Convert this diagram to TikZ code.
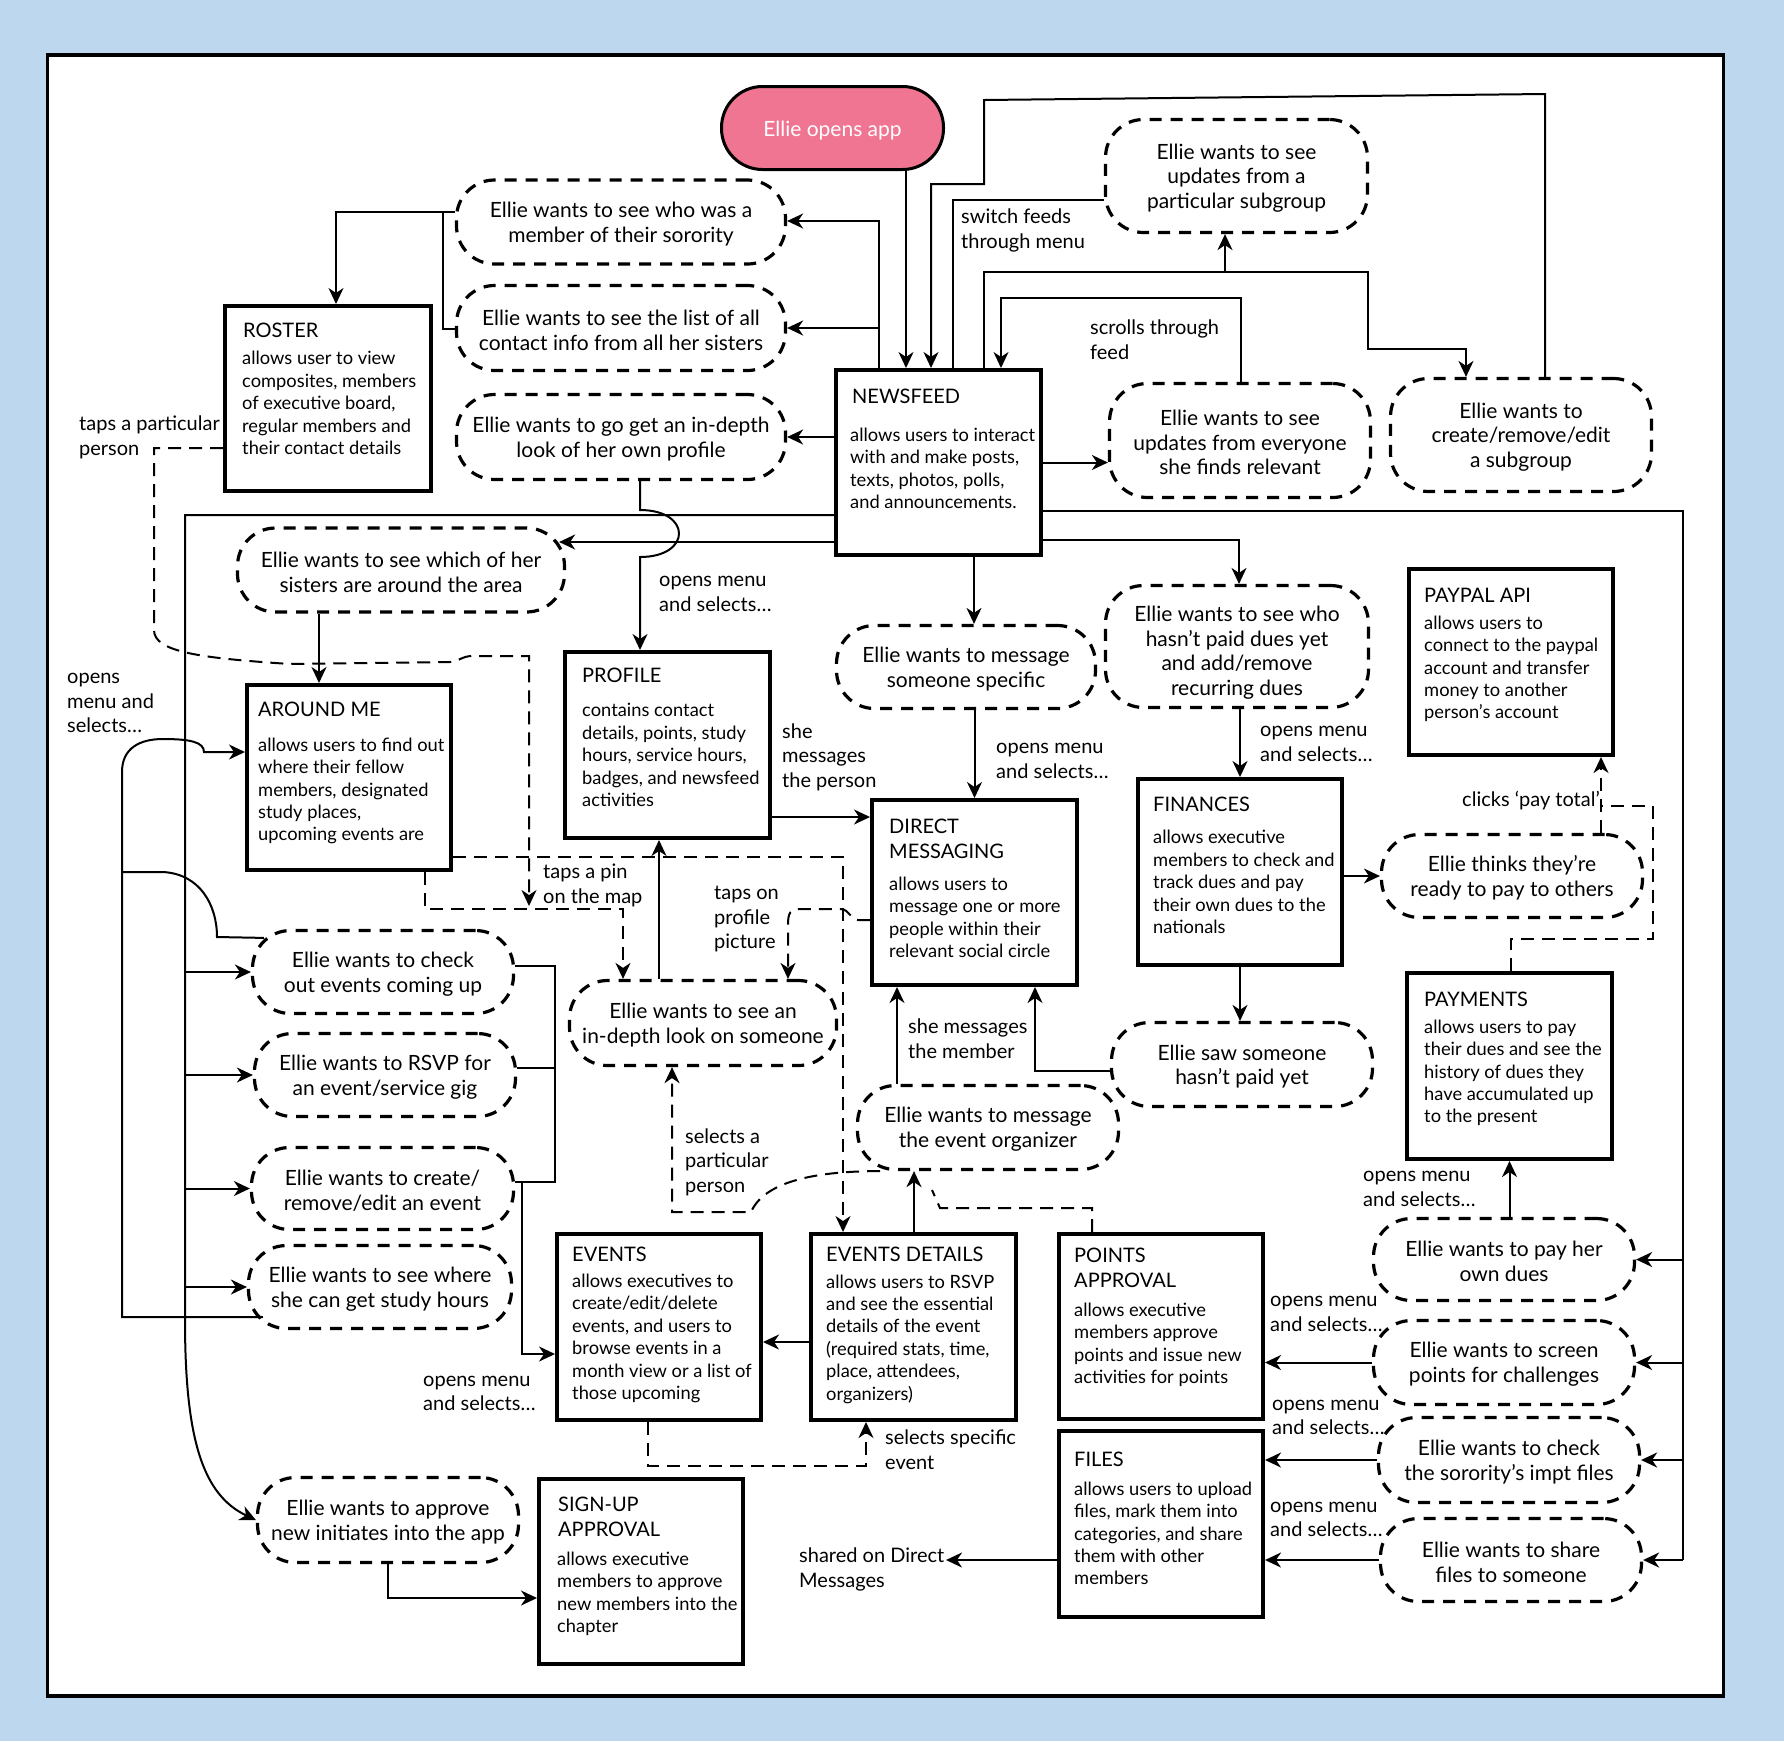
\documentclass[tikz,border=0pt]{standalone}
\usepackage{fontspec}
\setmainfont{Lato}
\usetikzlibrary{arrows.meta,calc}
\definecolor{bgblue}{RGB}{189,215,238}
\definecolor{pinkfill}{RGB}{240,117,146}
\newcommand\fE{\fontsize{21pt}{24.8pt}\selectfont}
\newcommand\fT{\fontsize{20pt}{25pt}\selectfont}
\newcommand\fB{\fontsize{18.3pt}{22.4pt}\selectfont}
\newcommand\fL{\fontsize{20pt}{24.6pt}\selectfont}
\newcommand\lowstrut{\rule{0pt}{19.5pt}}
\begin{document}
\begin{tikzpicture}[x=1pt,y=-1pt,
  box/.style={draw, line width=4pt, inner sep=0pt},
  ell/.style={draw, line width=3.2pt, dash pattern=on 12pt off 9pt, rounded corners=38pt, align=center, inner sep=0pt, font=\fE},
  pill/.style={draw, line width=3pt, fill=pinkfill, rounded corners=41pt, text=white, font=\fE, inner sep=0pt, execute at begin node={\rule{0pt}{20pt}}},
  ttl/.style={anchor=west, inner sep=0pt, align=left, font=\fT},
  bdy/.style={anchor=west, inner sep=0pt, align=left, font=\fB},
  lbl/.style={anchor=west, inner sep=0pt, align=left, font=\fL},
  ln/.style={line width=2pt},
  arr/.style={ln, -{Stealth[length=16pt,width=15pt,inset=5pt]}},
  dln/.style={ln, dash pattern=on 13pt off 8pt},
  darr/.style={dln, -{Stealth[length=16pt,width=15pt,inset=5pt]}}]
\useasboundingbox (0,0) rectangle (1784,1741);
\fill[bgblue] (0,0) rectangle (1784,1741);
\draw[line width=3.5pt, fill=white] (47.5,55) rectangle (1723.5,1696);

% ---------- boxes ----------
\node[box, minimum width=206pt, minimum height=185pt] (roster) at (328,398.5) {};
\node[ttl] (rosterT) at (243,330) {ROSTER};
\node[bdy] (rosterB) at (242,403) {allows user to view\\composites, members\\of executive board,\\regular members and\\their contact details};

\node[box, minimum width=205pt, minimum height=185pt] (news) at (938.5,462.5) {};
\node[ttl] (newsT) at (852,396) {NEWSFEED};
\node[bdy] (newsB) at (850,468.5) {allows users to interact\\with and make posts,\\texts, photos, polls,\\and announcements.};

\node[box, minimum width=205pt, minimum height=186pt] (profile) at (667.5,745) {};
\node[ttl] (profileT) at (582,675) {PROFILE};
\node[bdy] (profileB) at (582,755) {contains contact\\details, points, study\\hours, service hours,\\badges, and newsfeed\\activities};

\node[box, minimum width=204pt, minimum height=185pt] (aroundme) at (349,777.5) {};
\node[ttl] (aroundmeT) at (258,709) {AROUND ME};
\node[bdy] (aroundmeB) at (258,791) {allows users to find out\\where their fellow\\members, designated\\study places,\\upcoming events are};

\node[box, minimum width=205pt, minimum height=185pt] (dm) at (974.5,892.5) {};
\node[ttl] (dmT) at (889,838.5) {DIRECT\\MESSAGING};
\node[bdy] (dmB) at (889,917.5) {allows users to\\message one or more\\people within their\\relevant social circle};

\node[box, minimum width=204pt, minimum height=186pt] (fin) at (1240,872) {};
\node[ttl] (finT) at (1153,804) {FINANCES};
\node[bdy] (finB) at (1153,882) {allows executive\\members to check and\\track dues and pay\\their own dues to the\\nationals};

\node[box, minimum width=204pt, minimum height=186pt] (paypal) at (1511,662) {};
\node[ttl] (paypalT) at (1424,595) {PAYPAL API};
\node[bdy] (paypalB) at (1424,669) {allows users to\\connect to the paypal\\account and transfer\\money to another\\person’s account};

\node[box, minimum width=205pt, minimum height=186pt] (payments) at (1509.5,1066) {};
\node[ttl] (paymentsT) at (1424,999) {PAYMENTS};
\node[bdy] (paymentsB) at (1424,1073) {allows users to pay\\their dues and see the\\history of dues they\\have accumulated up\\to the present};

\node[box, minimum width=204pt, minimum height=186pt] (events) at (659,1327) {};
\node[ttl] (eventsT) at (572,1254) {EVENTS};
\node[bdy] (eventsB) at (572,1338.5) {allows executives to\\create/edit/delete\\events, and users to\\browse events in a\\month view or a list of\\those upcoming};

\node[box, minimum width=205pt, minimum height=186pt] (evdet) at (913.5,1327) {};
\node[ttl] (evdetT) at (826,1254) {EVENTS DETAILS};
\node[bdy] (evdetB) at (826,1339) {allows users to RSVP\\and see the essential\\details of the event\\(required stats, time,\\place, attendees,\\organizers)};

\node[box, minimum width=204pt, minimum height=185pt] (points) at (1161,1326.5) {};
\node[ttl] (pointsT) at (1074,1267.5) {POINTS\\APPROVAL};
\node[bdy] (pointsB) at (1074,1345) {allows executive\\members approve\\points and issue new\\activities for points};

\node[box, minimum width=204pt, minimum height=186pt] (files) at (1161,1524) {};
\node[ttl] (filesT) at (1074,1459) {FILES};
\node[bdy] (filesB) at (1074,1533.5) {allows users to upload\\files, mark them into\\categories, and share\\them with other\\members};

\node[box, minimum width=204pt, minimum height=185pt] (signup) at (641,1571.5) {};
\node[ttl] (signupT) at (558,1516.5) {SIGN-UP\\APPROVAL};
\node[bdy] (signupB) at (557,1594) {allows executive\\members to approve\\new members into the\\chapter};

% ---------- start and intents ----------
\node[pill, minimum width=222pt, minimum height=83pt] (pill) at (832.5,128) {Ellie opens app};

\node[ell, minimum width=329pt, minimum height=84pt] (sor) at (621,222) {\lowstrut Ellie wants to see who was a\\member of their sorority};
\node[ell, minimum width=329pt, minimum height=85pt] (list) at (621,328) {\lowstrut Ellie wants to see the list of all\\contact info from all her sisters};
\node[ell, minimum width=329pt, minimum height=85pt] (ownp) at (621,437) {\lowstrut Ellie wants to go get an in-depth\\look of her own profile};
\node[ell, minimum width=262pt, minimum height=113pt] (sub) at (1236.5,176) {\lowstrut Ellie wants to see\\updates from a\\particular subgroup};
\node[ell, minimum width=261pt, minimum height=114pt] (every) at (1240,440.5) {\lowstrut Ellie wants to see\\updates from everyone\\she finds relevant};
\node[ell, minimum width=261pt, minimum height=113pt] (csub) at (1521,435) {\lowstrut Ellie wants to\\create/remove/edit\\a subgroup};
\node[ell, minimum width=327pt, minimum height=84pt] (sis) at (401,570) {\lowstrut Ellie wants to see which of her\\sisters are around the area};
\node[ell, minimum width=259pt, minimum height=83pt] (msg) at (966,667) {\lowstrut Ellie wants to message\\someone specific};
\node[ell, minimum width=263pt, minimum height=122pt] (dues) at (1237,646.5) {\rule{0pt}{28pt}Ellie wants to see who\\hasn’t paid dues yet\\and add/remove\\recurring dues};
\node[ell, minimum width=261pt, minimum height=83pt] (ready) at (1512,876) {\lowstrut Ellie thinks they’re\\ready to pay to others};
\node[ell, minimum width=267pt, minimum height=85pt] (someone) at (703,1023) {\lowstrut Ellie wants to see an\\in-depth look on someone};
\node[ell, minimum width=261pt, minimum height=83pt] (checkev) at (383,972) {\lowstrut Ellie wants to check\\out events coming up};
\node[ell, minimum width=261pt, minimum height=83pt] (rsvp) at (385,1075) {\lowstrut Ellie wants to RSVP for\\an event/service gig};
\node[ell, minimum width=262pt, minimum height=82pt] (createev) at (382.5,1188.5) {\lowstrut Ellie wants to create/\\remove/edit an event};
\node[ell, minimum width=263pt, minimum height=83pt] (study) at (380,1287) {\lowstrut Ellie wants to see where\\she can get study hours};
\node[ell, minimum width=261pt, minimum height=85pt] (approve) at (388,1520) {\lowstrut Ellie wants to approve\\new initiates into the app};
\node[ell, minimum width=261pt, minimum height=84pt] (organizer) at (988,1127.5) {\lowstrut Ellie wants to message\\the event organizer};
\node[ell, minimum width=261pt, minimum height=84pt] (saw) at (1242,1064.5) {\lowstrut Ellie saw someone\\hasn’t paid yet};
\node[ell, minimum width=261pt, minimum height=82pt] (paydues) at (1504,1259.5) {\lowstrut Ellie wants to pay her\\own dues};
\node[ell, minimum width=261pt, minimum height=84pt] (screen) at (1504,1362.5) {\lowstrut Ellie wants to screen\\points for challenges};
\node[ell, minimum width=261pt, minimum height=85pt] (checkf) at (1509,1460) {\lowstrut Ellie wants to check\\the sorority’s impt files};
\node[ell, minimum width=261pt, minimum height=83pt] (share) at (1511,1560) {\lowstrut Ellie wants to share\\files to someone};

% ---------- labels ----------
\node[lbl] (lab1) at (79,437.5) {taps a particular\\person};
\node[lbl] (lab2) at (67,703) {opens\\menu and\\selects…};
\node[lbl] (lab3) at (961,230.5) {switch feeds\\through menu};
\node[lbl] (lab4) at (1090,339.5) {scrolls through\\feed};
\node[lbl] (lab5) at (659,594) {opens menu\\and selects…};
\node[lbl] (lab6) at (782,757) {she\\messages\\the person};
\node[lbl] (lab7) at (996,761) {opens menu\\and selects…};
\node[lbl] (lab8) at (1260,744) {opens menu\\and selects…};
\node[lbl] (lab9) at (1462,801) {clicks ‘pay total’};
\node[lbl] (lab10) at (543,885.5) {taps a pin\\on the map};
\node[lbl] (lab11) at (714,919) {taps on\\profile\\picture};
\node[lbl] (lab12) at (908,1038.5) {she messages\\the member};
\node[lbl] (lab13) at (685,1162) {selects a\\particular\\person};
\node[lbl] (lab14) at (423,1393.5) {opens menu\\and selects…};
\node[lbl] (lab15) at (885,1449.5) {selects specific\\event};
\node[lbl] (lab16) at (799,1569.5) {shared on Direct\\Messages};
\node[lbl] (lab17) at (1270,1314) {opens menu\\and selects…};
\node[lbl] (lab18) at (1272,1417.5) {opens menu\\and selects…};
\node[lbl] (lab19) at (1270,1519.5) {opens menu\\and selects…};
\node[lbl] (lab20) at (1363,1189) {opens menu\\and selects…};

% ---------- junction coordinates ----------
\coordinate (rl) at (1683,511);
\coordinate (lv) at (185,515);
\coordinate (nv) at (879,221);
\coordinate (j1) at (1225,272);
\coordinate (lj) at (122,872);
\coordinate (pinEnd) at (529,906);
\coordinate (p2end) at (932,1190);
\coordinate (sharedEnd) at (946,1560);

% ---------- connectors ----------
\draw[arr] ([xshift=73.5pt]pill.south) -- ([xshift=-32.5pt]news.north);
\draw[arr] ([xshift=24pt]csub.north) -- (1545,94) -- (984,100) -- (984,184) -- (931,184) -- ([xshift=-7.5pt]news.north);
\draw[ln] ([xshift=14.5pt]news.north) |- ([yshift=-24pt]sub.west);
\draw[arr] ([xshift=45.5pt]news.north) |- (1368,272) |- (1466,349) -- ([xshift=-55pt]csub.north);
\draw[arr] (j1) -- (j1 |- sub.south);
\draw[arr] ([xshift=1pt]every.north) |- (1001,298) -- ([xshift=62.5pt]news.north);
\draw[arr] (news.east) -- (every.west |- news.east);

\draw[ln] (news.east |- rl) -| (rl |- share.east);
\draw[arr] (rl |- paydues.east) -- (paydues.east);
\draw[arr] (rl |- screen.east) -- (screen.east);
\draw[arr] (rl |- checkf.east) -- (checkf.east);
\draw[arr] (rl |- share.east) -- (share.east);

\draw[arr] ([yshift=-79.5pt]news.west) -- ([shift={(-7,-28)}]sis.east);
\draw[arr] (news.west |- lv) -- (lv) -- (185,1320) .. controls (185,1440) and (203,1495) .. (approve.west);
\draw[arr] (lv |- checkev.west) -- (checkev.west);
\draw[arr] (lv |- rsvp.west) -- (rsvp.west);
\draw[arr] (lv |- createev.west) -- (createev.west);
\draw[arr] (lv |- study.west) -- (study.west);

\draw[arr] ([xshift=19pt]ownp.south) -- (640,510) .. controls (692,510) and (692,557) .. (640,557) -- ([xshift=-27.5pt]profile.north);
\draw[arr] (news.north -| nv) -- (nv) -- (nv -| sor.east);
\draw[arr] (nv |- list.east) -- (list.east);
\draw[arr] (news.west |- ownp.east) -- (ownp.east);
\draw[arr] ([yshift=10pt]sor.west) -| ([xshift=8pt]roster.north);
\draw[ln] ([yshift=-1pt]list.west) -| (443,212);
\draw[arr] ([xshift=-82pt]sis.south) -- ([xshift=-30pt]aroundme.north);

\draw[darr] ([yshift=-49.5pt]roster.west) -- (154,448) -- (154,630) .. controls (154,652) and (200,658) .. (290,664) -- (450,662) .. controls (458,662) and (462,656) .. (472,656) -- (529,656) -- (pinEnd);
\draw[darr] ([xshift=76pt]aroundme.south) |- (623,909) -- ([xshift=-80pt]someone.north);
\draw[darr] ([yshift=-79.5pt]aroundme.east) -| ([xshift=-70.5pt]evdet.north);
\draw[darr] ([yshift=-27.5pt]dm.west) -- (858,920) .. controls (850,920) and (850,909) .. (840,909) -- (800,909) .. controls (790,909) and (788,913) .. (788,925) -- ([xshift=85pt]someone.north);
\draw[arr] ([xshift=-44pt]someone.north) -- ([xshift=-8.5pt]profile.south);
\draw[arr] ([yshift=-72pt]profile.east) -- ([yshift=75.5pt]dm.west);

\draw[arr] ([xshift=35.5pt]news.south) -- ([xshift=8pt]msg.north);
\draw[arr] ([yshift=-77.5pt]news.east) -| ([xshift=2pt]dues.north);
\draw[arr] (dm.north |- msg.south) -- (dm.north);
\draw[arr] (fin.north |- dues.south) -- (fin.north);
\draw[arr] (fin.south) -- (fin.south |- saw.north);
\draw[arr] (fin.east |- ready.west) -- (ready.west);
\draw[darr] ([xshift=89pt]ready.north) -- ([xshift=90pt]paypal.south);
\draw[dln] ([xshift=1.5pt]payments.north) |- (1653,939) |- (1601,806);
\draw[arr] (payments.south |- paydues.north) -- (payments.south);
\draw[arr] ([yshift=-6.5pt]saw.west) -| ([xshift=60.5pt]dm.south);
\draw[arr] ([xshift=-91pt]organizer.north) -- ([xshift=-77.5pt]dm.south);
\draw[arr] ([xshift=0.5pt]evdet.north) -- ([xshift=-74pt]organizer.south);
\draw[arr] ([yshift=-15pt]evdet.west) -- ([yshift=-15pt]events.east);
\draw[darr] ([xshift=-108pt]organizer.south) .. controls (820,1171) and (765,1180) .. (751,1212) -- (672,1212) -- ([xshift=-31pt]someone.south);
\draw[dln] ([xshift=-69pt]points.north) |- (940,1208) -- (p2end);
\draw[darr] ([xshift=-11pt]events.south) |- (866,1466) -- ([xshift=-47.5pt]evdet.south);

\draw[arr] ([yshift=6pt]checkev.east) -| (555,1182) -- (522,1182) |- ([yshift=-27pt]events.west);
\draw[ln] ([yshift=7pt]rsvp.east) -- (555,1068);
\draw[ln] ([yshift=6.5pt]createev.east) -- (522,1182);

\draw[arr] ([shift={(16,-13)}]study.south west) -- (122,1317) -- (lj) -- (122,772) .. controls (122,748) and (140,739) .. (163,739) .. controls (190,739) and (204,742) .. (204,752) -- ([yshift=25.5pt]aroundme.west);
\draw[ln] (lj) -- (163,872) .. controls (200,874) and (217,905) .. (217,937) -- ([shift={(13,9)}]checkev.north west);

\draw[arr] (approve.south) |- ([yshift=-26.5pt]signup.west);
\draw[arr] ([yshift=-36pt]files.west) -- (sharedEnd);
\draw[arr] (screen.west) -- (points.east |- screen.west);
\draw[arr] (checkf.west) -- (files.east |- checkf.west);
\draw[arr] (share.west) -- (files.east |- share.west);
\end{tikzpicture}
\end{document}
